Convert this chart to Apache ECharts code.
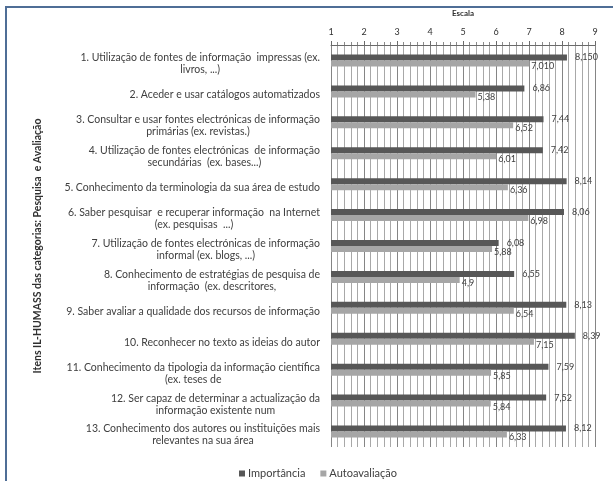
<!DOCTYPE html>
<html>
<head>
<meta charset="utf-8">
<script src="https://cdn.jsdelivr.net/npm/echarts@6/dist/echarts.min.js"></script>
<style>
  html, body { margin: 0; padding: 0; background: #fff; }
  #chart { width: 613px; height: 481px; }
</style>
</head>
<body>
<div id="chart"></div>
<script>
// IL-HUMASS items, "Pesquisa e Avaliação" category (lines split as printed)
var categories = [
  ['1. Utilização de fontes de informação  impressas (ex.', 'livros, ...)'],
  ['2. Aceder e usar catálogos automatizados'],
  ['3. Consultar e usar fontes electrónicas de informação', 'primárias (ex. revistas.)'],
  ['4. Utilização de fontes electrónicas  de informação', 'secundárias  (ex. bases...)'],
  ['5. Conhecimento da terminologia da sua área de estudo'],
  ['6. Saber pesquisar  e recuperar informação  na Internet', '(ex. pesquisas  ...)'],
  ['7. Utilização de fontes electrónicas de informação', 'informal (ex. blogs, ...)'],
  ['8. Conhecimento de estratégias de pesquisa de', 'informação  (ex. descritores,'],
  ['9. Saber avaliar a qualidade dos recursos de informação'],
  ['10. Reconhecer no texto as ideias do autor'],
  ['11. Conhecimento da tipologia da informação científica', '(ex. teses de'],
  ['12. Ser capaz de determinar a actualização da', 'informação existente num'],
  ['13. Conhecimento dos autores ou instituições mais', 'relevantes na sua área']
];

var importancia = [8.15, 6.86, 7.44, 7.42, 8.14, 8.06, 6.08, 6.55, 8.13, 8.39, 7.59, 7.52, 8.12];
var autoavaliacao = [7.01, 5.38, 6.52, 6.01, 6.36, 6.98, 5.88, 4.9, 6.54, 7.15, 5.85, 5.84, 6.33];

// printed value labels (item 1 shown with three decimals)
var importanciaLabels = ['8,150', '6,86', '7,44', '7,42', '8,14', '8,06', '6,08', '6,55', '8,13', '8,39', '7,59', '7,52', '8,12'];
var autoavaliacaoLabels = ['7,010', '5,38', '6,52', '6,01', '6,36', '6,98', '5,88', '4,9', '6,54', '7,15', '5,85', '5,84', '6,33'];

var scaleTicks = [1, 2, 3, 4, 5, 6, 7, 8, 9];

var FONT = 'Lato, "Liberation Sans", sans-serif';
var catKeys = categories.map(function (c, i) { return 'c' + i; });

var chart = echarts.init(document.getElementById('chart'), null, { renderer: 'canvas' });

chart.setOption({
  backgroundColor: '#ffffff',
  animation: false,
  textStyle: { fontFamily: FONT },
  graphic: [{
    type: 'rect',
    shape: { x: 6, y: 7, width: 640, height: 520 },
    style: { fill: 'none', stroke: '#4f6e96', lineWidth: 2 },
    silent: true,
    z: 100
  }],
  grid: { left: 331, right: 18, top: 45, bottom: 34 },
  legend: {
    left: 234,
    bottom: -3,
    itemWidth: 6,
    itemHeight: 6,
    itemGap: 15,
    icon: 'rect',
    textStyle: { fontSize: 11, color: '#404040', fontFamily: FONT, padding: [0, 0, 0, -2] },
    data: ['Importância', 'Autoavaliação']
  },
  xAxis: {
    type: 'value',
    position: 'top',
    min: scaleTicks[0],
    max: scaleTicks[scaleTicks.length - 1],
    interval: 1,
    name: 'Escala',
    nameLocation: 'middle',
    nameGap: 28,
    nameTextStyle: { fontSize: 8, color: '#303030', fontWeight: 'bold', fontFamily: FONT },
    axisLine: { show: true, lineStyle: { color: '#6a6a6a', width: 1 } },
    axisTick: { show: true, length: 4, lineStyle: { color: '#6a6a6a' } },
    minorTick: { show: true, splitNumber: 5, length: 3, lineStyle: { color: '#8a8a8a' } },
    axisLabel: { fontSize: 9, color: '#303030', margin: 8, fontFamily: FONT },
    splitLine: { show: true, lineStyle: { color: '#858585', width: 1 } },
    minorSplitLine: { show: true, lineStyle: { color: '#a8a8a8', width: 1 } }
  },
  yAxis: {
    type: 'category',
    inverse: true,
    data: catKeys,
    name: 'Itens IL-HUMASS das categorias: Pesquisa  e Avaliação',
    nameLocation: 'middle',
    nameRotate: 90,
    nameGap: 288,
    nameTextStyle: { fontSize: 10.5, color: '#303030', fontWeight: 'bold', fontFamily: FONT },
    axisLine: { show: false },
    axisTick: { show: false },
    splitLine: { show: false },
    axisLabel: {
      margin: 11,
      align: 'right',
      interval: 0,
      fontSize: 10.5,
      color: '#404040',
      lineHeight: 12,
      padding: [7, 0, 0, 0],
      formatter: function (v) {
        var idx = catKeys.indexOf(v);
        return categories[idx].map(function (line) { return '{c|' + line + '}'; }).join('\n');
      },
      rich: {
        c: { align: 'center', fontSize: 10.5, lineHeight: 12, color: '#404040', fontFamily: FONT }
      }
    }
  },
  series: [
    {
      name: 'Importância',
      type: 'bar',
      data: importancia,
      barWidth: 6,
      barGap: '0%',
      itemStyle: { color: '#575757' },
      label: {
        show: true,
        position: 'right',
        distance: 8,
        fontSize: 9,
        color: '#404040',
        fontFamily: FONT,
        formatter: function (p) { return importanciaLabels[p.dataIndex]; }
      }
    },
    {
      name: 'Autoavaliação',
      type: 'bar',
      data: autoavaliacao,
      barWidth: 6,
      barGap: '0%',
      itemStyle: { color: '#a6a6a6' },
      label: {
        show: true,
        position: 'right',
        distance: 2,
        offset: [0, 3],
        fontSize: 9,
        color: '#404040',
        fontFamily: FONT,
        formatter: function (p) { return autoavaliacaoLabels[p.dataIndex]; }
      }
    }
  ]
});
</script>
</body>
</html>
